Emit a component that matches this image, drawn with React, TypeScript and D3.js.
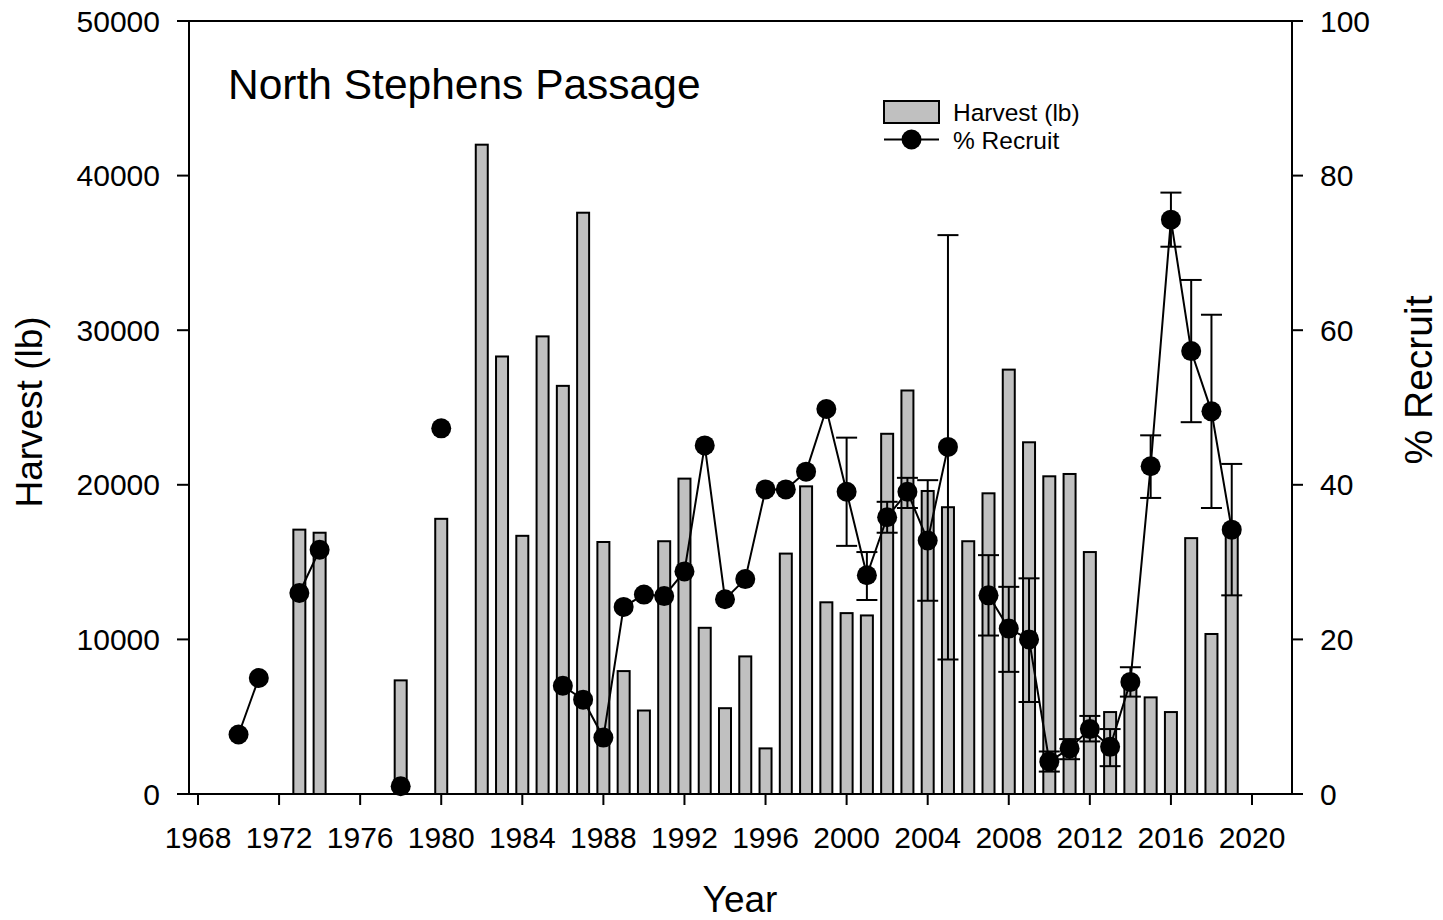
import React, { useEffect, useRef } from 'react';
import * as d3 from 'd3';

// Harvest (lb) bars
const harvestYears = [1973, 1974, 1978, 1980, 1982, 1983, 1984, 1985, 1986, 1987, 1988, 1989, 1990, 1991, 1992, 1993, 1994, 1995, 1996, 1997, 1998, 1999, 2000, 2001, 2002, 2003, 2004, 2005, 2006, 2007, 2008, 2009, 2010, 2011, 2012, 2013, 2014, 2015, 2016, 2017, 2018, 2019];
const harvestLb = [17100, 16900, 7350, 17800, 42000, 28300, 16700, 29600, 26400, 37600, 16300, 7950, 5400, 16350, 20400, 10750, 5550, 8900, 2950, 15550, 19900, 12400, 11700, 11550, 23300, 26100, 19600, 18550, 16350, 19450, 27450, 22750, 20550, 20700, 15650, 5300, 7200, 6250, 5300, 16550, 10350, 17000];

// % Recruit line (null = no survey, line breaks)
const recruitYears = [1970, 1971, 1972, 1973, 1974, 1975, 1976, 1977, 1978, 1979, 1980, 1981, 1982, 1983, 1984, 1985, 1986, 1987, 1988, 1989, 1990, 1991, 1992, 1993, 1994, 1995, 1996, 1997, 1998, 1999, 2000, 2001, 2002, 2003, 2004, 2005, 2006, 2007, 2008, 2009, 2010, 2011, 2012, 2013, 2014, 2015, 2016, 2017, 2018, 2019];
const recruitPct = [7.7, 15.0, null, 26.0, 31.6, null, null, null, 1.0, null, 47.3, null, null, null, null, null, 14.0, 12.2, 7.3, 24.2, 25.8, 25.6, 28.8, 45.1, 25.2, 27.8, 39.4, 39.4, 41.7, 49.8, 39.1, 28.3, 35.8, 39.1, 32.8, 44.9, null, 25.7, 21.4, 20.0, 4.2, 5.9, 8.4, 6.1, 14.5, 42.4, 74.3, 57.3, 49.5, 34.2];

// error bars on % Recruit
const errYears = [2000, 2001, 2002, 2003, 2004, 2005, 2007, 2008, 2009, 2010, 2011, 2012, 2013, 2014, 2015, 2016, 2017, 2018, 2019];
const errLow = [32.1, 25.1, 33.8, 37.0, 25.0, 17.4, 20.5, 15.8, 11.9, 2.9, 4.5, 6.8, 3.6, 12.6, 38.3, 70.8, 48.1, 37.0, 25.7];
const errHigh = [46.1, 31.3, 37.8, 40.9, 40.6, 72.3, 30.9, 26.8, 27.9, 5.5, 7.1, 10.1, 8.4, 16.4, 46.4, 77.8, 66.5, 62.0, 42.7];

const yearTicks = [1968, 1972, 1976, 1980, 1984, 1988, 1992, 1996, 2000, 2004, 2008, 2012, 2016, 2020];
const harvestTicks = [0, 10000, 20000, 30000, 40000, 50000];
const pctTicks = [0, 20, 40, 60, 80, 100];

const FONT = '"Liberation Sans", Arial, Helvetica, sans-serif';

const App: React.FC = () => {
  const svgRef = useRef<SVGSVGElement>(null);

  useEffect(() => {
    if (!svgRef.current) return;
    const svg = d3.select(svgRef.current);
    svg.selectAll('*').remove();

    const left = 189, right = 1292, top = 21, bottom = 794;

    const x = d3.scaleLinear().domain([1968, 2020]).range([198, 1252]);
    const yL = d3.scaleLinear().domain([0, 50000]).range([bottom, top]);
    const yR = d3.scaleLinear().domain([0, 100]).range([bottom, top]);

    const barW = 12;

    // bars
    svg.append('g')
      .selectAll('rect')
      .data(harvestYears.map((yr, i) => ({ yr, v: harvestLb[i] })))
      .join('rect')
      .attr('x', d => x(d.yr) - barW / 2)
      .attr('y', d => yL(d.v))
      .attr('width', barW)
      .attr('height', d => bottom - yL(d.v))
      .attr('fill', '#c0c0c0')
      .attr('stroke', '#000')
      .attr('stroke-width', 2);

    // error bars
    const errs = errYears.map((yr, i) => ({ yr, lo: errLow[i], hi: errHigh[i] }));
    const eg = svg.append('g').attr('stroke', '#000').attr('stroke-width', 2);
    errs.forEach(d => {
      eg.append('line').attr('x1', x(d.yr)).attr('x2', x(d.yr)).attr('y1', yR(d.lo)).attr('y2', yR(d.hi));
      [d.lo, d.hi].forEach(v => {
        eg.append('line').attr('x1', x(d.yr) - 10.5).attr('x2', x(d.yr) + 10.5).attr('y1', yR(v)).attr('y2', yR(v));
      });
    });

    // line + points
    const pts = recruitYears.map((yr, i) => ({ yr, v: recruitPct[i] }));
    const line = d3.line<{ yr: number; v: number | null }>()
      .defined(d => d.v !== null)
      .x(d => x(d.yr))
      .y(d => yR(d.v as number));
    svg.append('path')
      .datum(pts)
      .attr('d', line)
      .attr('fill', 'none')
      .attr('stroke', '#000')
      .attr('stroke-width', 2);

    svg.append('g')
      .selectAll('circle')
      .data(pts.filter(d => d.v !== null))
      .join('circle')
      .attr('cx', d => x(d.yr))
      .attr('cy', d => yR(d.v as number))
      .attr('r', 10)
      .attr('fill', '#000');

    // frame
    const axisG = svg.append('g').attr('stroke', '#000').attr('stroke-width', 2).attr('fill', 'none');
    axisG.append('rect').attr('x', left).attr('y', top).attr('width', right - left).attr('height', bottom - top);

    // left axis ticks
    harvestTicks.forEach(t => {
      axisG.append('line').attr('x1', left - 12).attr('x2', left).attr('y1', yL(t)).attr('y2', yL(t));
    });
    svg.append('g')
      .selectAll('text')
      .data(harvestTicks)
      .join('text')
      .attr('x', 160)
      .attr('y', d => yL(d) + 10.5)
      .attr('text-anchor', 'end')
      .style('font-family', FONT)
      .style('font-size', '30px')
      .text(d => String(d));

    // right axis ticks
    pctTicks.forEach(t => {
      axisG.append('line').attr('x1', right).attr('x2', right + 11).attr('y1', yR(t)).attr('y2', yR(t));
    });
    svg.append('g')
      .selectAll('text')
      .data(pctTicks)
      .join('text')
      .attr('x', 1320)
      .attr('y', d => yR(d) + 10.5)
      .attr('text-anchor', 'start')
      .style('font-family', FONT)
      .style('font-size', '30px')
      .text(d => String(d));

    // bottom ticks
    yearTicks.forEach(t => {
      axisG.append('line').attr('x1', x(t)).attr('x2', x(t)).attr('y1', bottom).attr('y2', bottom + 11);
    });
    svg.append('g')
      .selectAll('text')
      .data(yearTicks)
      .join('text')
      .attr('x', d => x(d))
      .attr('y', 848)
      .attr('text-anchor', 'middle')
      .style('font-family', FONT)
      .style('font-size', '30px')
      .text(d => String(d));

    // axis titles
    svg.append('text')
      .attr('transform', 'translate(42,412) rotate(-90)')
      .attr('text-anchor', 'middle')
      .style('font-family', FONT)
      .style('font-size', '37px')
      .text('Harvest (lb)');
    svg.append('text')
      .attr('transform', 'translate(1432,380) rotate(-90)')
      .attr('text-anchor', 'middle')
      .style('font-family', FONT)
      .style('font-size', '39px')
      .text('% Recruit');
    svg.append('text')
      .attr('x', 740)
      .attr('y', 912)
      .attr('text-anchor', 'middle')
      .style('font-family', FONT)
      .style('font-size', '37px')
      .text('Year');

    // title
    svg.append('text')
      .attr('x', 228)
      .attr('y', 99)
      .style('font-family', FONT)
      .style('font-size', '42.5px')
      .text('North Stephens Passage');

    // legend
    const lg = svg.append('g');
    lg.append('rect').attr('x', 884).attr('y', 101).attr('width', 55).attr('height', 22)
      .attr('fill', '#c0c0c0').attr('stroke', '#000').attr('stroke-width', 2);
    lg.append('line').attr('x1', 884).attr('x2', 939).attr('y1', 139.5).attr('y2', 139.5)
      .attr('stroke', '#000').attr('stroke-width', 2);
    lg.append('circle').attr('cx', 911.5).attr('cy', 139.5).attr('r', 10).attr('fill', '#000');
    lg.append('text').attr('x', 953).attr('y', 121).style('font-family', FONT).style('font-size', '24.5px').text('Harvest (lb)');
    lg.append('text').attr('x', 953).attr('y', 148.5).style('font-family', FONT).style('font-size', '24.5px').text('% Recruit');
  }, []);

  return (
    <svg
      ref={svgRef}
      width={1443}
      height={920}
      style={{ position: 'absolute', left: 0, top: 0, background: '#fff' }}
    />
  );
};

export default App;
